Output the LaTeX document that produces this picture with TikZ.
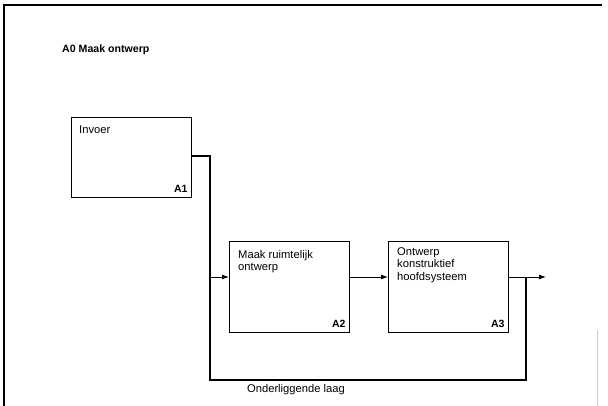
\documentclass[tikz,border=0pt]{standalone}
\usepackage{fontspec}
\setmainfont{Liberation Sans}
\usetikzlibrary{arrows.meta}
\begin{document}
\begin{tikzpicture}[x=1pt,y=-1pt,
  font=\fontsize{11.2}{12.5}\selectfont,
  actbox/.style={draw, line width=0.7pt, rectangle, minimum width=120pt, inner sep=0pt},
  boxtext/.style={anchor=north west, align=left, inner sep=0pt},
  boxnum/.style={anchor=south east, inner sep=0pt, font=\fontsize{10.5}{12.5}\selectfont\bfseries},
  conn/.style={line width=1.2pt},
  arr/.style={line width=0.9pt, -{Latex[length=7pt,width=5pt]}}
]
\useasboundingbox (0,0) rectangle (608,406);
% frame
\draw[line width=2pt] (4,406) -- (4,5) -- (602,5);
\draw[gray!40, line width=1pt] (597,330) -- (597,406);
% title
\node[anchor=west, inner sep=0pt, font=\fontsize{10.6}{12.5}\selectfont\bfseries] (title) at (62,50) {A0 Maak ontwerp};
% boxes
\node[actbox, minimum height=80pt, anchor=north west] (a1) at (71,117) {};
\node[actbox, minimum height=91pt, anchor=north west] (a2) at (229,241) {};
\node[actbox, minimum height=91pt, anchor=north west] (a3) at (388,241) {};
% texts
\node[boxtext] (t1) at ([xshift=8pt,yshift=-9pt]a1.north west) {Invoer};
\node[boxtext] (t2) at ([xshift=9pt,yshift=-9pt]a2.north west) {Maak ruimtelijk\\ontwerp};
\node[boxtext] (t3) at ([xshift=9pt,yshift=-6pt]a3.north west) {Ontwerp\\konstruktief\\hoofdsysteem};
\node[boxnum] (n1) at ([xshift=-4pt,yshift=5pt]a1.south east) {A1};
\node[boxnum] (n2) at ([xshift=-4pt,yshift=5pt]a2.south east) {A2};
\node[boxnum] (n3) at ([xshift=-4pt,yshift=5pt]a3.south east) {A3};
% coordinates
\coordinate (tl) at (210,156);
\coordinate (jl) at (210,277);
\coordinate (bl) at (210,380);
\coordinate (br) at (526,380);
\coordinate (jr) at (526,277);
\coordinate (out) at (546,277);
% connectors
\draw[conn] (a1.east |- tl) -- (tl) -- (bl) -- (br) -- (jr);
\draw[arr] (jl) -- (a2.west |- jl);
\draw[arr] (a2.east |- jl) -- (a3.west |- jl);
\draw[arr] (a3.east |- jl) -- (out);
\node[anchor=north, inner sep=0pt] (lab) at (296,384) {Onderliggende laag};
\end{tikzpicture}
\end{document}
